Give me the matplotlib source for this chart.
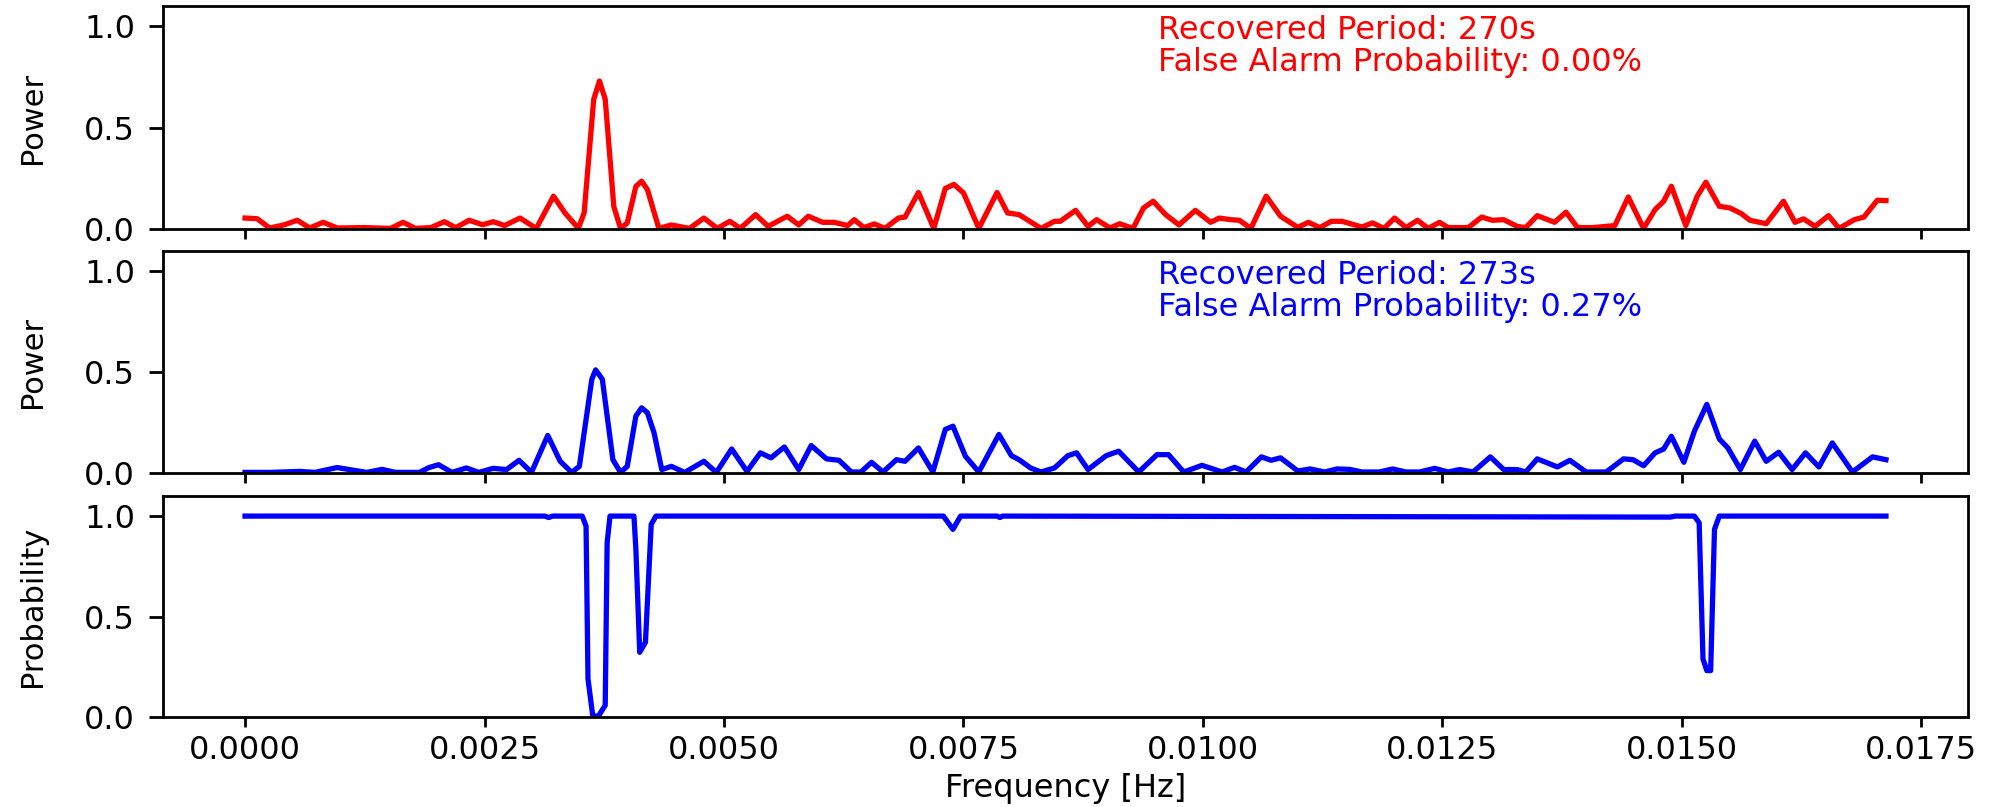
import matplotlib
matplotlib.use("Agg")
import matplotlib.pyplot as plt

# ---- data ----
freq_red = [0, 0.000126, 0.000256, 0.000405, 0.000545, 0.000675, 0.000815, 0.000964, 0.00124, 0.00152,
            0.00165, 0.00178, 0.00194, 0.00208, 0.0022, 0.00234, 0.00248, 0.00259, 0.00271, 0.00287,
            0.00304, 0.00322, 0.00334, 0.00348, 0.00354, 0.00364, 0.0037, 0.00376, 0.00385, 0.00392,
            0.00399, 0.00408, 0.00414, 0.0042, 0.00432, 0.00445, 0.00464, 0.00479, 0.00493, 0.00506,
            0.00517, 0.00533, 0.00546, 0.00566, 0.00578, 0.00588, 0.00603, 0.00615, 0.00629, 0.00636,
            0.00646, 0.00657, 0.00668, 0.00682, 0.00689, 0.00703, 0.00719, 0.00731, 0.0074, 0.0075,
            0.00766, 0.00785, 0.00796, 0.00808, 0.00831, 0.00845, 0.00851, 0.00867, 0.0088, 0.00889,
            0.00903, 0.00913, 0.00927, 0.00938, 0.00948, 0.00961, 0.00975, 0.00992, 0.01008, 0.01017,
            0.01029, 0.01038, 0.0105, 0.01066, 0.01081, 0.01099, 0.0111, 0.01122, 0.01134, 0.01145,
            0.01154, 0.01166, 0.01177, 0.01189, 0.012, 0.01212, 0.01224, 0.01235, 0.01247, 0.01256,
            0.01277, 0.01291, 0.01302, 0.01314, 0.01328, 0.01337, 0.01349, 0.01367, 0.01379, 0.01391,
            0.01407, 0.0143, 0.01444, 0.0146, 0.01472, 0.01481, 0.01489, 0.01504, 0.01516, 0.01525,
            0.01539, 0.0155, 0.01562, 0.01571, 0.01588, 0.01606, 0.01618, 0.01627, 0.01639, 0.01653,
            0.01664, 0.0168, 0.0169, 0.01704, 0.01713]
power_red = [0.054, 0.051, 0.005, 0.02, 0.043, 0.005, 0.033, 0.005, 0.007, 0.003,
             0.033, 0.003, 0.007, 0.036, 0.007, 0.043, 0.021, 0.036, 0.017, 0.054,
             0.003, 0.162, 0.079, 0.003, 0.08, 0.64, 0.73, 0.64, 0.11, 0.003,
             0.03, 0.21, 0.236, 0.195, 0.003, 0.02, 0.003, 0.054, 0.003, 0.038,
             0.003, 0.071, 0.013, 0.063, 0.02, 0.063, 0.033, 0.033, 0.017, 0.046,
             0.007, 0.025, 0.003, 0.054, 0.059, 0.18, 0.003, 0.2, 0.22, 0.178,
             0.003, 0.18, 0.079, 0.071, 0.003, 0.038, 0.038, 0.092, 0.013, 0.046,
             0.005, 0.026, 0.003, 0.104, 0.137, 0.071, 0.02, 0.092, 0.033, 0.054,
             0.046, 0.043, 0.003, 0.162, 0.063, 0.008, 0.033, 0.007, 0.038, 0.038,
             0.026, 0.01, 0.03, 0.003, 0.054, 0.007, 0.043, 0.003, 0.033, 0.007,
             0.007, 0.059, 0.043, 0.046, 0.013, 0.007, 0.066, 0.033, 0.083, 0.007,
             0.007, 0.017, 0.158, 0.003, 0.096, 0.137, 0.211, 0.017, 0.162, 0.231,
             0.112, 0.104, 0.076, 0.043, 0.026, 0.137, 0.033, 0.05, 0.013, 0.066,
             0.003, 0.046, 0.059, 0.142, 0.14]

freq_blue = [0, 0.00027, 0.00057, 0.00073, 0.00096, 0.00127, 0.00143, 0.00157, 0.00182, 0.00192,
             0.00202, 0.00216, 0.00231, 0.00244, 0.00259, 0.00273, 0.00286, 0.00299, 0.00316, 0.00329,
             0.00341, 0.00349, 0.00362, 0.00366, 0.00373, 0.00384, 0.00392, 0.00399, 0.00408, 0.00414,
             0.0042, 0.00427, 0.00435, 0.00445, 0.00459, 0.00479, 0.00492, 0.00508, 0.00524, 0.00538,
             0.00549, 0.00563, 0.00578, 0.00591, 0.00607, 0.0062, 0.00633, 0.00643, 0.00654, 0.00666,
             0.0068, 0.00689, 0.00703, 0.00718, 0.00731, 0.00739, 0.00752, 0.00766, 0.00787, 0.008,
             0.00808, 0.0082, 0.00831, 0.00845, 0.00859, 0.00868, 0.0088, 0.00899, 0.00912, 0.00933,
             0.00952, 0.00964, 0.0098, 0.00999, 0.0102, 0.01033, 0.01045, 0.01061, 0.01071, 0.01081,
             0.01099, 0.01112, 0.01127, 0.0114, 0.01153, 0.01166, 0.01184, 0.01198, 0.01212, 0.01226,
             0.01242, 0.01256, 0.01268, 0.01282, 0.013, 0.01314, 0.01328, 0.01337, 0.01349, 0.01358,
             0.0137, 0.01383, 0.014, 0.01421, 0.01439, 0.01449, 0.0146, 0.01472, 0.01481, 0.01489,
             0.01502, 0.01513, 0.01526, 0.01539, 0.01548, 0.01561, 0.01576, 0.01588, 0.01601, 0.01615,
             0.01629, 0.01643, 0.01657, 0.01678, 0.01699, 0.01713]
power_blue = [0.003, 0.003, 0.008, 0.003, 0.027, 0.003, 0.018, 0.003, 0.003, 0.027,
              0.041, 0.003, 0.025, 0.003, 0.023, 0.017, 0.063, 0.003, 0.186, 0.058,
              0.003, 0.033, 0.464, 0.511, 0.464, 0.066, 0.003, 0.033, 0.282, 0.323,
              0.299, 0.199, 0.017, 0.033, 0.003, 0.058, 0.003, 0.119, 0.008, 0.1,
              0.075, 0.129, 0.017, 0.136, 0.07, 0.063, 0.005, 0.005, 0.053, 0.005,
              0.066, 0.058, 0.124, 0.005, 0.216, 0.232, 0.083, 0.005, 0.191, 0.086,
              0.066, 0.025, 0.005, 0.025, 0.086, 0.1, 0.017, 0.086, 0.108, 0.005,
              0.091, 0.091, 0.005, 0.038, 0.005, 0.028, 0.005, 0.08, 0.063, 0.075,
              0.01, 0.02, 0.005, 0.02, 0.018, 0.005, 0.005, 0.02, 0.005, 0.005,
              0.023, 0.005, 0.017, 0.005, 0.08, 0.017, 0.017, 0.005, 0.07, 0.053,
              0.03, 0.063, 0.005, 0.005, 0.07, 0.066, 0.036, 0.1, 0.119, 0.182,
              0.053, 0.207, 0.34, 0.169, 0.124, 0.017, 0.158, 0.058, 0.103, 0.017,
              0.1, 0.03, 0.149, 0.005, 0.08, 0.066]

freq_prob = [0, 0.00313, 0.00317, 0.00321, 0.00352, 0.00356, 0.00358, 0.00363, 0.00369, 0.00376,
             0.00378, 0.00381, 0.00406, 0.00408, 0.00412, 0.00418, 0.00424, 0.00429, 0.00729, 0.00739,
             0.00747, 0.00785, 0.00788, 0.00791, 0.01488, 0.01493, 0.01513, 0.01518, 0.01522, 0.01526,
             0.0153, 0.01534, 0.01539, 0.01713]
prob = [1.0, 1.0, 0.993, 1.0, 1.0, 0.95, 0.19, 0.005, 0.005, 0.058,
        0.868, 1.0, 1.0, 0.835, 0.322, 0.372, 0.959, 1.0, 1.0, 0.934,
        1.0, 1.0, 0.993, 1.0, 0.995, 1.0, 1.0, 0.967, 0.289, 0.231,
        0.231, 0.934, 1.0, 1.0]

xticks = [0.0, 0.0025, 0.005, 0.0075, 0.01, 0.0125, 0.015, 0.0175]
yticks = [0.0, 0.5, 1.0]
text_red = "Recovered Period: 270s\nFalse Alarm Probability: 0.00%"
text_blue = "Recovered Period: 273s\nFalse Alarm Probability: 0.27%"

# ---- figure ----
W, H = 1998, 807
fig = plt.figure(figsize=(W / 100, H / 100), dpi=100)

left = 163 / W
width = (1968 - 163) / W
def box(top, bottom):
    return [left, 1 - bottom / H, width, (bottom - top) / H]

ax1 = fig.add_axes(box(6, 229))
ax2 = fig.add_axes(box(251, 473), sharex=ax1)
ax3 = fig.add_axes(box(496, 717), sharex=ax1)

fs = 23

ax1.plot(freq_red, power_red, color='red', lw=3.8)
ax2.plot(freq_blue, power_blue, color='blue', lw=3.8)
ax3.plot(freq_prob, prob, color='blue', lw=3.8)

for ax in (ax1, ax2, ax3):
    ax.set_ylim(0, 1.1)
    ax.set_yticks(yticks)
    ax.set_xticks(xticks)
    ax.tick_params(axis='x', labelsize=fs, length=7, width=2, pad=6)
    ax.tick_params(axis='y', labelsize=fs, length=10, width=2, pad=10)
    for s in ax.spines.values():
        s.set_linewidth(2)

ax1.tick_params(labelbottom=False)
ax2.tick_params(labelbottom=False)

ax1.set_ylabel("Power", fontsize=fs - 1)
ax2.set_ylabel("Power", fontsize=fs - 1)
ax3.set_ylabel("Probability", fontsize=fs - 1)
ax3.set_xlabel("Frequency [Hz]", fontsize=fs, labelpad=5)
for ax in (ax1, ax2, ax3):
    ax.yaxis.set_label_coords(-0.064, 0.5)

ax1.text(0.551, 0.96, text_red, transform=ax1.transAxes, color='red',
         fontsize=fs, va='top', ha='left', linespacing=1.05)
ax2.text(0.551, 0.96, text_blue, transform=ax2.transAxes, color='blue',
         fontsize=fs, va='top', ha='left', linespacing=1.05)

fig.savefig("out.png", dpi=100)
